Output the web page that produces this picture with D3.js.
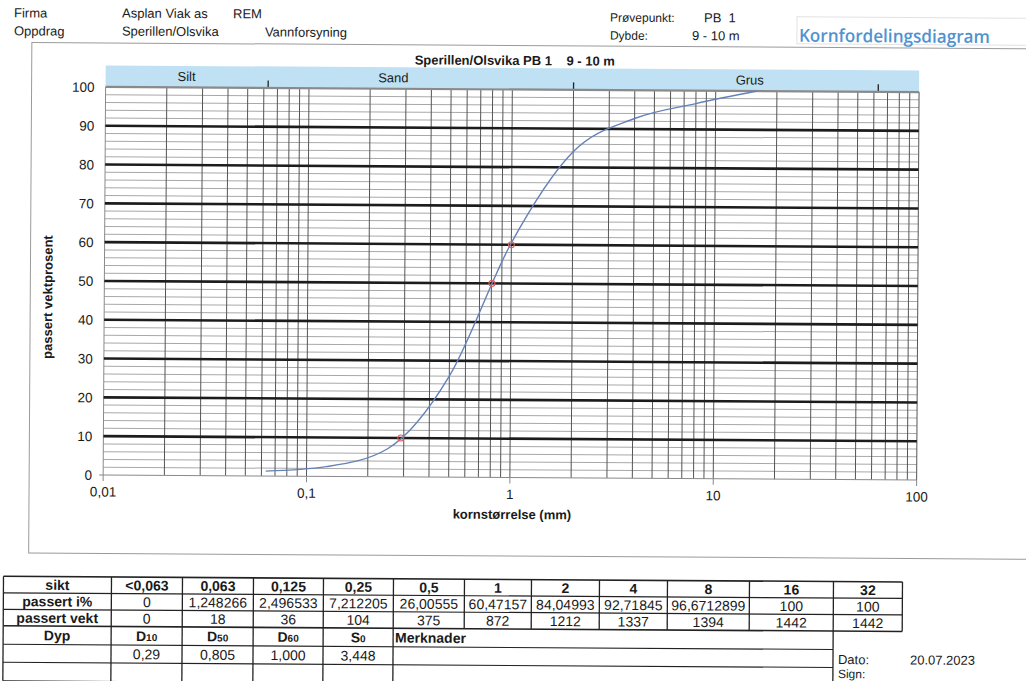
<!DOCTYPE html>
<html><head><meta charset="utf-8">
<script src="https://cdn.jsdelivr.net/npm/d3@7"></script>
<style>
html,body{margin:0;padding:0;background:#fff;}
svg{display:block;}
text{font-family:"Liberation Sans",Arial,sans-serif;fill:#1a1a1a;white-space:pre;}
</style></head>
<body>
<svg id="c" width="1026" height="681"></svg>
<script>
// ---------- data ----------
const sieveSizes = [0.063, 0.125, 0.25, 0.5, 1, 2, 4, 8, 16];
const passedPct = [1.248266, 2.496533, 7.212205, 26.00555, 60.47157, 84.04993, 92.71845, 96.6712899, 100];
const dNames = ["D10", "D50", "D60"];
const dSizes = [0.29, 0.805, 1.0];
const dPct = [10, 50, 60];
const xTickValues = [0.01, 0.1, 1, 10, 100];
const xTickLabels = ["0,01", "0,1", "1", "10", "100"];
const yTickValues = [0, 10, 20, 30, 40, 50, 60, 70, 80, 90, 100];
const fractionNames = ["Silt", "Sand", "Grus"];
const fractionLabelAt = [0.025, 0.26, 14.7];
const fractionLimits = [0.063, 2, 63];
const tableSikt = ["<0,063", "0,063", "0,125", "0,25", "0,5", "1", "2", "4", "8", "16", "32"];
const tablePct = ["0", "1,248266", "2,496533", "7,212205", "26,00555", "60,47157", "84,04993", "92,71845", "96,6712899", "100", "100"];
const tableVekt = ["0", "18", "36", "104", "375", "872", "1212", "1337", "1394", "1442", "1442"];
const paramNames = ["D", "D", "D", "S"];
const paramSubs = ["10", "50", "60", "0"];
const paramValues = ["0,29", "0,805", "1,000", "3,448"];

// ---------- drawing ----------
const svg = d3.select("#c");
const root = svg.append("g").attr("transform", "rotate(0.36 513 340)");

const x = d3.scaleLog().domain([0.01, 100]).range([104, 917.5]);
const y = d3.scaleLinear().domain([0, 100]).range([477.5, 89.5]);

// header
const hdr = root.append("g").style("font-size", "13px");
hdr.append("text").attr("x", 12).attr("y", 20.5).text("Firma");
hdr.append("text").attr("x", 12).attr("y", 38.5).text("Oppdrag");
hdr.append("text").attr("x", 120).attr("y", 20).text("Asplan Viak as");
hdr.append("text").attr("x", 231).attr("y", 20).text("REM");
hdr.append("text").attr("x", 120).attr("y", 38).text("Sperillen/Olsvika");
hdr.append("text").attr("x", 263).attr("y", 38).text("Vannforsyning");
hdr.append("text").attr("x", 608).attr("y", 21).style("font-size", "12px").text("Prøvepunkt:");
hdr.append("text").attr("x", 702).attr("y", 21).text("PB  1");
hdr.append("text").attr("x", 608).attr("y", 39).style("font-size", "12px").text("Dybde:");
hdr.append("text").attr("x", 690).attr("y", 39).text("9 - 10 m");
root.append("rect").attr("x", 795).attr("y", 15).attr("width", 280).attr("height", 27)
  .attr("fill", "#fff").attr("stroke", "#e2e2e2").attr("stroke-width", 1);
root.append("text").attr("x", 797).attr("y", 40)
  .attr("textLength", 191).attr("lengthAdjust", "spacingAndGlyphs")
  .style("font-family", "'Open Sans','Noto Sans',sans-serif").style("font-weight", 600)
  .style("font-size", "18px").style("fill", "#4f93cf").text("Kornfordelingsdiagram");

// frame
root.append("rect").attr("x", 30).attr("y", 45.5).attr("width", 1100).attr("height", 510.5)
  .attr("fill", "none").attr("stroke", "#9a9a9a").attr("stroke-width", 1);

// title
root.append("text").attr("x", 513).attr("y", 65).attr("text-anchor", "middle")
  .style("font-size", "13px").style("font-weight", "bold")
  .text("Sperillen/Olsvika PB 1    9 - 10 m");

// fraction band
root.append("rect").attr("x", x(0.01)).attr("y", 68).attr("width", x(100) - x(0.01)).attr("height", 21.5)
  .attr("fill", "#bfe1f3");
root.selectAll(".frac").data(fractionNames).join("text")
  .attr("x", (d, i) => x(fractionLabelAt[i])).attr("y", 83).attr("text-anchor", "middle")
  .style("font-size", "13px").text(d => d);
root.selectAll(".flim").data(fractionLimits).join("line")
  .attr("x1", d => x(d)).attr("x2", d => x(d)).attr("y1", 82).attr("y2", 90)
  .attr("stroke", "#222").attr("stroke-width", 1.3);

// grid: thin horizontal lines every 2 %
const hVals = d3.range(0, 101, 2);
root.selectAll(".hthin").data(hVals.filter(v => v % 10 !== 0)).join("line")
  .attr("x1", x(0.01)).attr("x2", x(100)).attr("y1", d => y(d)).attr("y2", d => y(d))
  .attr("stroke", "#a8a8a8").attr("stroke-width", 1);

// vertical grid lines
const vVals = [];
[0.01, 0.1, 1, 10].forEach(dec => { for (let k = 1; k <= 9; k++) vVals.push(+(k * dec).toPrecision(3)); });
vVals.push(100);
root.selectAll(".vgrid").data(vVals).join("line")
  .attr("x1", d => x(d)).attr("x2", d => x(d)).attr("y1", y(0)).attr("y2", y(100))
  .attr("stroke", d => (d === 0.01 ? "#8a8a8a" : "#555")).attr("stroke-width", 1);

// decade ticks below
root.selectAll(".xtick").data(xTickValues).join("line")
  .attr("x1", d => x(d)).attr("x2", d => x(d)).attr("y1", y(0)).attr("y2", y(0) + 6)
  .attr("stroke", "#888").attr("stroke-width", 1);

// thick horizontal lines
root.selectAll(".hthick").data(yTickValues).join("line")
  .attr("x1", x(0.01)).attr("x2", x(100)).attr("y1", d => y(d)).attr("y2", d => y(d))
  .attr("stroke", d => (d === 0 || d === 100) ? "#8a8a8a" : "#1c1c1c")
  .attr("stroke-width", d => d === 0 ? 1 : d === 100 ? 2.2 : 2.6);
root.append("line").attr("x1", x(0.01) - 4).attr("x2", x(0.01)).attr("y1", y(0)).attr("y2", y(0))
  .attr("stroke", "#888");

// axis labels
root.selectAll(".ylab").data(yTickValues).join("text")
  .attr("x", 93).attr("y", d => y(d) + 5).attr("text-anchor", "end")
  .style("font-size", "13.5px").text(d => d);
root.selectAll(".xlab").data(xTickValues).join("text")
  .attr("x", d => x(d)).attr("y", 499).attr("text-anchor", "middle")
  .style("font-size", "13.5px").text((d, i) => xTickLabels[i]);
root.append("text").attr("x", 513).attr("y", 519).attr("text-anchor", "middle")
  .style("font-size", "13px").style("font-weight", "bold").text("kornstørrelse (mm)");
root.append("text").attr("transform", "translate(52,300) rotate(-90)").attr("text-anchor", "middle")
  .style("font-size", "13px").style("font-weight", "bold").text("passert vektprosent");

// curve
const pts = sieveSizes.map((s, i) => ({ s, p: passedPct[i] }));
const line = d3.line().x(d => x(d.s)).y(d => y(d.p)).curve(d3.curveMonotoneX);
root.append("path").datum(pts).attr("d", line).attr("fill", "none")
  .attr("stroke", "#6482b8").attr("stroke-width", 1.4);

// D markers
root.selectAll(".dm").data(dSizes).join("circle")
  .attr("cx", d => x(d)).attr("cy", (d, i) => y(dPct[i])).attr("r", 3)
  .attr("fill", "none").attr("stroke", "#e0605a").attr("stroke-width", 1.1);

// ---------- table ----------
const cols = [5, 113, 184, 255, 325, 395, 466, 533, 601, 669, 751, 835, 904];
const rows = [579.5, 596, 612.5, 629, 647.5, 665.5, 684];
const tb = root.append("g").style("font-size", "14px");
const lc = "#222";
function hl(x1, x2, yy, w) { tb.append("line").attr("x1", x1).attr("x2", x2).attr("y1", yy).attr("y2", yy).attr("stroke", lc).attr("stroke-width", w || 1.3); }
function vl(xx, y1, y2, w) { tb.append("line").attr("x1", xx).attr("x2", xx).attr("y1", y1).attr("y2", y2).attr("stroke", lc).attr("stroke-width", w || 1.3); }
// upper block
for (let r = 0; r < 4; r++) hl(cols[0], cols[12], rows[r], r === 0 || r === 3 ? 1.6 : 1.2);
cols.forEach(c => vl(c, rows[0], rows[3]));
// lower block
hl(cols[0], cols[11], rows[4], 1.1);
hl(cols[0], cols[11], rows[5], 1.1);
hl(cols[0], cols[11], rows[6], 1.1);
[0, 1, 2, 3, 4, 5, 11].forEach(i => vl(cols[i], rows[3], rows[6]));

const rowHead = ["sikt", "passert i%", "passert vekt"];
const rowData = [tableSikt, tablePct, tableVekt];
rowHead.forEach((h, r) => {
  const cy = (rows[r] + rows[r + 1]) / 2 + 5;
  tb.append("text").attr("x", (cols[0] + cols[1]) / 2).attr("y", cy).attr("text-anchor", "middle")
    .style("font-weight", "bold").text(h);
  tb.selectAll(null).data(rowData[r]).join("text")
    .attr("x", (d, i) => (cols[i + 1] + cols[i + 2]) / 2).attr("y", cy).attr("text-anchor", "middle")
    .style("font-weight", r === 0 ? "bold" : "normal").text(d => d);
});
const cyD = (rows[3] + rows[4]) / 2 + 5;
tb.append("text").attr("x", (cols[0] + cols[1]) / 2).attr("y", cyD).attr("text-anchor", "middle")
  .style("font-weight", "bold").text("Dyp");
paramNames.forEach((n, i) => {
  const t = tb.append("text").attr("x", (cols[i + 1] + cols[i + 2]) / 2).attr("y", cyD)
    .attr("text-anchor", "middle").style("font-weight", "bold");
  t.append("tspan").text(n);
  t.append("tspan").style("font-size", "10px").text(paramSubs[i]);
});
tb.append("text").attr("x", cols[5] + 2).attr("y", cyD).style("font-weight", "bold").text("Merknader");
const cyV = (rows[4] + rows[5]) / 2 + 5;
tb.selectAll(null).data(paramValues).join("text")
  .attr("x", (d, i) => (cols[i + 1] + cols[i + 2]) / 2).attr("y", cyV).attr("text-anchor", "middle").text(d => d);

tb.append("text").attr("x", 840).attr("y", 662).style("font-size", "13px").text("Dato:");
tb.append("text").attr("x", 912).attr("y", 662).style("font-size", "13px").text("20.07.2023");
tb.append("text").attr("x", 840).attr("y", 676).style("font-size", "12px").text("Sign:");
</script>
</body></html>
